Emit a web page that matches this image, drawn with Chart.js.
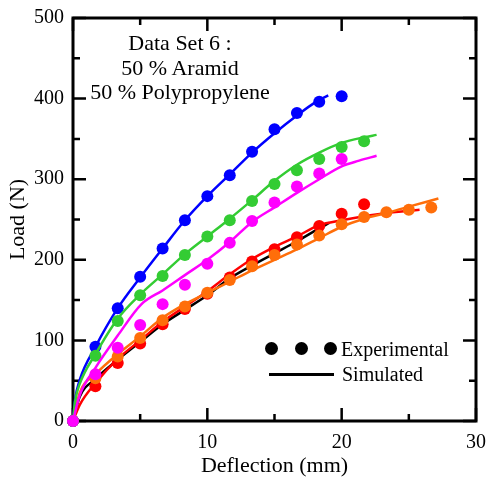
<!DOCTYPE html>
<html>
<head>
<meta charset="utf-8">
<script src="https://cdn.jsdelivr.net/npm/chart.js@4"></script>
<style>
  body { margin: 0; background: #fff; }
  #wrap { position: relative; width: 490px; height: 479px; font-family: 'Liberation Serif', 'Times New Roman', serif; color: #000; }
  canvas { position: absolute; left: 0; top: 0; }
  .note { position: absolute; left: 70px; top: 31px; width: 220px; text-align: center; font-size: 22px; line-height: 24.5px; }
  .leg { position: absolute; font-size: 20px; line-height: 20px; white-space: nowrap; }
  .dot { position: absolute; width: 13px; height: 13px; border-radius: 50%; background: #000; }
  .seg { position: absolute; height: 2.5px; background: #000; }
</style>
</head>
<body>
<div id="wrap">
  <canvas id="chart" width="490" height="479"></canvas>
  <div class="note">Data Set 6 :<br>50 % Aramid<br>50 % Polypropylene</div>
  <div class="dot" style="left:265px; top:342px"></div>
  <div class="dot" style="left:295px; top:342px"></div>
  <div class="dot" style="left:324px; top:342px"></div>
  <div class="leg" style="left:341px; top:338.7px">Experimental</div>
  <div class="seg" style="left:269px; top:373px; width:65px"></div>
  <div class="leg" style="left:342px; top:363.7px">Simulated</div>
</div>
<script>
// experimental deflections (mm), shared by all test series
const expX = [0, 1.67, 3.33, 5, 6.67, 8.33, 10, 11.67, 13.33, 15, 16.67, 18.33, 20, 21.67, 23.33, 25, 26.67];

// experimental loads (N)
const blueExp = [0, 92, 140, 179, 214, 249, 279, 305, 334, 362, 382, 396, 403];
const greenExp = [0, 81, 124, 156, 180, 206, 229, 249, 273, 294, 311, 325, 340, 347];
const magentaExp = [0, 58, 91, 119, 145, 169, 195, 221, 248, 271, 291, 307, 325];
const redExp = [0, 43, 72, 96, 120, 139, 158, 178, 198, 213, 228, 242, 257, 269];
const orangeExp = [0, 53, 80, 103, 125, 142, 159, 175, 192, 206, 219, 230, 244, 253, 259, 262, 265];

// simulated curves (deflection mm, load N)
const blueSimX = [0, 0.15, 0.5, 1.67, 3.33, 5, 6.67, 8.33, 10, 11.67, 13.33, 15, 16.67, 18, 19];
const blueSimY = [0, 26, 51, 92, 140, 178, 214, 249, 279, 306, 333, 357, 379, 395, 404];
const greenSimX = [0, 0.15, 0.5, 1.67, 3.33, 5, 6.67, 8.33, 10, 11.67, 13.33, 15, 16.67, 18.33, 20, 21.67, 22.6];
const greenSimY = [0, 24, 46, 83, 127, 157, 182, 207, 229, 251, 274, 298, 318, 333, 345, 352, 355];
const magentaSimX = [0, 0.5, 1.67, 3.33, 5.1, 6.67, 8.33, 10, 11.67, 13.33, 15, 16.67, 18.33, 20, 21.3, 22.6];
const magentaSimY = [0, 32, 66, 106, 145, 162, 181, 200, 222, 247, 265, 283, 300, 316, 323, 329];
const blackSimX = [0, 0.5, 1.67, 3.33, 5, 6.67, 8.33, 10, 11.67, 13.33, 15, 16.67, 18.33, 19.1];
const blackSimY = [0, 30, 52, 76, 98, 120, 138, 156, 177, 193, 208, 223, 239, 246];
const redSimX = [0, 0.5, 1.67, 3.33, 5, 6.67, 8.33, 10, 11.67, 13.33, 15, 16.67, 18.33, 20, 21.67, 23.33, 25.8];
const redSimY = [0, 20, 47, 77, 100, 123, 142, 161, 182, 201, 216, 229, 243, 249, 254, 258, 262];
const orangeSimX = [0, 0.5, 1.67, 3.33, 5, 6.67, 8.33, 10, 11.67, 13.33, 15, 16.67, 18.33, 20, 21.67, 23.33, 25, 27.2];
const orangeSimY = [0, 35, 58, 83, 105, 128, 145, 159, 173, 187, 200, 213, 227, 241, 251, 258, 266, 276];

// axis ticks
const xTicks = [0, 10, 20, 30];
const yTicks = [0, 100, 200, 300, 400, 500];

const BLUE = '#0000ff', GREEN = '#33cc33', MAGENTA = '#ff00ff', RED = '#ff0000', ORANGE = '#ff6e0a', BLACK = '#000000';

const pts = (xs, ys) => ys.map((y, i) => ({ x: xs[i], y }));

function simSet(xs, ys, color, order) {
  return {
    data: pts(xs, ys), showLine: true, borderColor: color, borderWidth: 2.5,
    pointRadius: 0, cubicInterpolationMode: 'monotone', clip: false, order
  };
}
function expSet(ys, color, order) {
  return {
    data: pts(expX, ys), showLine: false, backgroundColor: color, borderWidth: 0,
    pointRadius: 6, clip: false, order
  };
}

// inward frame ticks, drawn before the data
const frame = {
  id: 'frame',
  beforeDatasetsDraw(chart) {
    const { ctx, chartArea: a, scales: { x, y } } = chart;
    ctx.save();
    ctx.strokeStyle = '#000';
    ctx.lineWidth = 2.5;
    for (let v = 0; v <= 30; v += 5) {
      const px = x.getPixelForValue(v);
      const len = v % 10 === 0 ? 13 : 7;
      ctx.beginPath();
      ctx.moveTo(px, a.bottom); ctx.lineTo(px, a.bottom - len);
      ctx.moveTo(px, a.top); ctx.lineTo(px, a.top + len);
      ctx.stroke();
    }
    for (let v = 0; v <= 500; v += 50) {
      const py = y.getPixelForValue(v);
      const len = v % 100 === 0 ? 13 : 7;
      ctx.beginPath();
      ctx.moveTo(a.left, py); ctx.lineTo(a.left + len, py);
      ctx.moveTo(a.right, py); ctx.lineTo(a.right - len, py);
      ctx.stroke();
    }
    ctx.lineWidth = 3;
    ctx.strokeRect(a.left, a.top, a.right - a.left, a.bottom - a.top);
    ctx.restore();
  }
};

Chart.defaults.font.family = "'Liberation Serif', 'Times New Roman', serif";
Chart.defaults.color = '#000';

new Chart(document.getElementById('chart'), {
  type: 'scatter',
  data: {
    datasets: [
      simSet(blackSimX, blackSimY, BLACK, 20),
      simSet(redSimX, redSimY, RED, 19),
      expSet(redExp, RED, 18),
      simSet(orangeSimX, orangeSimY, ORANGE, 17),
      expSet(orangeExp, ORANGE, 16),
      simSet(blueSimX, blueSimY, BLUE, 15),
      expSet(blueExp, BLUE, 14),
      simSet(greenSimX, greenSimY, GREEN, 13),
      expSet(greenExp, GREEN, 12),
      simSet(magentaSimX, magentaSimY, MAGENTA, 11),
      expSet(magentaExp, MAGENTA, 10)
    ]
  },
  options: {
    responsive: false,
    animation: false,
    layout: { padding: { top: 18, right: 14, left: 0, bottom: 0 } },
    plugins: { legend: { display: false }, tooltip: { enabled: false } },
    scales: {
      x: {
        type: 'linear', min: 0, max: 30,
        afterFit: s => { s.height = 58; },
        afterBuildTicks: s => { s.ticks = xTicks.map(v => ({ value: v })); },
        grid: { display: false }, border: { display: false },
        ticks: { font: { size: 20 }, padding: 2, maxRotation: 0 },
        title: { display: true, text: 'Deflection (mm)', font: { size: 22 }, padding: { top: 0, bottom: 0 } }
      },
      y: {
        type: 'linear', min: 0, max: 500,
        afterFit: s => { s.width = 73; },
        afterBuildTicks: s => { s.ticks = yTicks.map(v => ({ value: v })); },
        grid: { display: false }, border: { display: false },
        ticks: { font: { size: 20 }, padding: 1 },
        title: { display: true, text: 'Load (N)', font: { size: 22 }, padding: { top: 5, bottom: 0 } }
      }
    }
  },
  plugins: [frame]
});
</script>
</body>
</html>
